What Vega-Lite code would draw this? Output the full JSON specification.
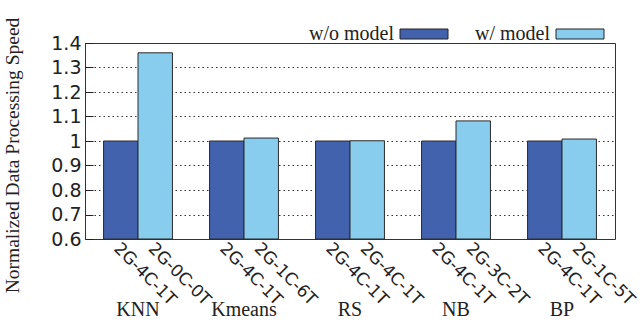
{
  "$schema": "https://vega.github.io/schema/vega-lite/v6.json",
  "width": 530,
  "height": 196,
  "autosize": {"type": "none"},
  "padding": {"left": 85, "top": 43, "right": 29, "bottom": 87},
  "background": "white",
  "data": {
    "values": [
      {"workload": "KNN", "series": "w/o model", "config": "2G-4C-1T", "speed": 1.0},
      {"workload": "KNN", "series": "w/ model", "config": "2G-0C-0T", "speed": 1.36},
      {"workload": "Kmeans", "series": "w/o model", "config": "2G-4C-1T", "speed": 1.0},
      {"workload": "Kmeans", "series": "w/ model", "config": "2G-1C-6T", "speed": 1.012},
      {"workload": "RS", "series": "w/o model", "config": "2G-4C-1T", "speed": 1.0},
      {"workload": "RS", "series": "w/ model", "config": "2G-4C-1T", "speed": 1.001},
      {"workload": "NB", "series": "w/o model", "config": "2G-4C-1T", "speed": 1.0},
      {"workload": "NB", "series": "w/ model", "config": "2G-3C-2T", "speed": 1.082},
      {"workload": "BP", "series": "w/o model", "config": "2G-4C-1T", "speed": 1.0},
      {"workload": "BP", "series": "w/ model", "config": "2G-1C-5T", "speed": 1.008}
    ]
  },
  "encoding": {
    "x": {
      "field": "workload",
      "type": "nominal",
      "sort": null,
      "scale": {"paddingInner": 0.35, "paddingOuter": 0.175},
      "axis": {
        "title": null,
        "labelAngle": 0,
        "labelFont": "Liberation Serif",
        "labelFontSize": 20,
        "labelColor": "#222",
        "labelPadding": 60,
        "ticks": false,
        "domain": false,
        "grid": false
      }
    },
    "xOffset": {
      "field": "series",
      "type": "nominal",
      "sort": ["w/o model", "w/ model"],
      "scale": {"paddingInner": 0, "paddingOuter": 0}
    }
  },
  "layer": [
    {
      "mark": {"type": "bar", "stroke": "#2b2b2b", "strokeWidth": 1},
      "encoding": {
        "y": {
          "field": "speed",
          "type": "quantitative",
          "scale": {"domain": [0.6, 1.4], "zero": false, "nice": false},
          "title": "Normalized Data Processing Speed",
          "axis": {
            "values": [0.6, 0.7, 0.8, 0.9, 1.0, 1.1, 1.2, 1.3, 1.4],
            "tickCount": 12
          }
        },
        "y2": {"datum": 0.6},
        "color": {
          "field": "series",
          "type": "nominal",
          "sort": ["w/o model", "w/ model"],
          "scale": {"domain": ["w/o model", "w/ model"], "range": ["#4262AE", "#88CCEE"]},
          "legend": {
            "title": null,
            "orient": "top",
            "direction": "horizontal",
            "symbolType": "M -1 -1 H 8.6 V 1 H -1 Z",
            "symbolSize": 100,
            "symbolStrokeColor": "#222",
            "symbolStrokeWidth": 1,
            "symbolOpacity": 1,
            "labelAlign": "right",
            "labelOffset": -21,
            "labelFont": "Liberation Serif",
            "labelFontSize": 20,
            "labelColor": "#222",
            "columnPadding": 25,
            "padding": 9,
            "offset": -10
          }
        }
      }
    },
    {
      "mark": {
        "type": "text",
        "angle": 45,
        "align": "left",
        "baseline": "middle",
        "dx": 2,
        "dy": 8,
        "font": "DejaVu Sans",
        "fontSize": 17,
        "color": "#222"
      },
      "encoding": {
        "y": {"datum": 0.6, "type": "quantitative"},
        "text": {"field": "config", "type": "nominal"}
      }
    }
  ],
  "config": {
    "view": {"stroke": "#333", "strokeWidth": 1},
    "legend": {"layout": {"top": {"anchor": "end"}}},
    "axisY": {
      "format": ".1~f",
      "tickCount": 12,
      "labelOverlap": false,
      "labelFont": "DejaVu Sans",
      "labelFontSize": 19,
      "labelColor": "#222",
      "labelPadding": 12,
      "tickSize": -8,
      "tickColor": "#222",
      "domain": false,
      "grid": true,
      "gridDash": [1.5, 3],
      "gridColor": "#333",
      "gridOpacity": 1,
      "titleFont": "Liberation Serif",
      "titleFontSize": 19.5,
      "titleFontWeight": "normal",
      "titleColor": "#222",
      "titlePadding": 28,
      "titleY": 112
    }
  }
}
